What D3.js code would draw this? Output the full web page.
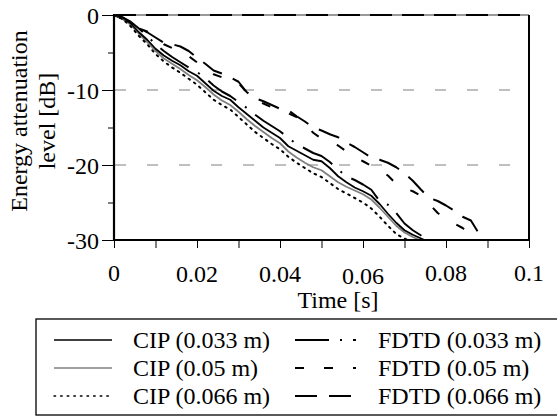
<!DOCTYPE html>
<html>
<head>
<meta charset="utf-8">
<script src="https://cdn.jsdelivr.net/npm/d3@7"></script>
<style>
  body { margin: 0; background: #fff; }
  svg text { font-family: "Liberation Serif", "Times New Roman", serif; fill: #000; }
</style>
</head>
<body>
<div id="chart"></div>
<script>
// --- data ---
// sample times [s], shared by every curve (index k -> time)
var times = [0, 0.002, 0.004, 0.006, 0.008, 0.010, 0.012, 0.014, 0.016, 0.018,
  0.020, 0.022, 0.024, 0.026, 0.028, 0.030, 0.032, 0.034, 0.036, 0.038,
  0.040, 0.042, 0.044, 0.046, 0.048, 0.050, 0.052, 0.054, 0.056, 0.058,
  0.060, 0.062, 0.064, 0.066, 0.068, 0.070, 0.072, 0.074, 0.076, 0.078,
  0.080, 0.082, 0.084, 0.086, 0.088, 0.090];

// energy attenuation level [dB]
var cip033 = [0, -0.3, -1.1, -2.3, -3.3, -4.5, -5.4, -6.1, -6.7, -7.5,
  -8.1, -9.1, -10.1, -10.8, -11.3, -12.3, -13.2, -14.1, -15.0, -15.7,
  -16.4, -17.5, -18.1, -18.7, -19.3, -19.5, -20.4, -21.5, -22.3, -23.0,
  -23.5, -24.1, -25.2, -26.5, -27.7, -28.7, -29.3, -29.8, -30.3];
var cip05 = [0, -0.4, -1.3, -2.5, -3.6, -4.8, -5.8, -6.5, -7.2, -8.0,
  -8.7, -9.6, -10.6, -11.4, -12.0, -12.9, -13.9, -14.8, -15.6, -16.4,
  -17.1, -18.2, -19.0, -19.7, -20.3, -20.7, -21.5, -22.3, -22.9, -23.4,
  -23.9, -24.6, -25.7, -26.9, -28.1, -29.0, -29.6, -30.1];
var cip066 = [0, -0.5, -1.5, -2.8, -3.9, -5.2, -6.2, -7.0, -7.7, -8.5,
  -9.3, -10.3, -11.3, -12.0, -12.6, -13.6, -14.6, -15.6, -16.4, -17.2,
  -17.9, -18.9, -19.7, -20.4, -21.1, -21.6, -22.4, -23.2, -23.8, -24.4,
  -25.0, -25.8, -26.9, -28.1, -29.2, -29.8, -30.4];
var fdtd033 = [0, -0.3, -0.9, -1.8, -2.8, -3.9, -4.8, -5.6, -6.3, -7.0,
  -7.6, -8.4, -9.4, -10.2, -10.8, -11.6, -12.4, -13.3, -14.1, -14.8,
  -15.5, -16.4, -17.2, -17.8, -18.4, -18.8, -19.6, -20.6, -21.5, -22.0,
  -22.6, -23.3, -24.8, -25.3, -26.4, -27.8, -28.7, -29.4, -30.2];
var fdtd05 = [0, -0.5, -1.2, -1.8, -2.2, -2.9, -3.9, -4.4, -4.9, -5.5,
  -6.3, -7.0, -7.9, -8.3, -8.7, -9.1, -10.3, -11.2, -11.8, -12.3,
  -12.7, -13.1, -13.6, -14.5, -15.7, -16.5, -16.9, -17.4, -18.2, -18.9,
  -19.5, -20.1, -20.7, -21.4, -22.5, -23.1, -23.5, -24.1, -25.2, -26.4,
  -27.1, -27.8, -28.4, -29.2, -30.4];
var fdtd066 = [0, -0.5, -1.0, -1.7, -2.3, -3.0, -3.7, -3.9, -4.2, -4.8,
  -5.7, -6.5, -7.4, -7.8, -8.3, -8.9, -10.3, -11.1, -11.5, -12.0,
  -12.5, -12.7, -13.5, -14.2, -15.0, -15.4, -15.9, -16.3, -17.0, -17.6,
  -18.3, -19.0, -19.3, -19.7, -20.3, -21.1, -22.1, -23.3, -24.4, -24.8,
  -25.4, -26.1, -26.9, -27.4, -29.2, -31.5];

var seriesNames = ["CIP (0.033 m)", "CIP (0.05 m)", "CIP (0.066 m)",
  "FDTD (0.033 m)", "FDTD (0.05 m)", "FDTD (0.066 m)"];
var seriesValues = [cip033, cip05, cip066, fdtd033, fdtd05, fdtd066];

var xTicks = [0, 0.01, 0.02, 0.03, 0.04, 0.05, 0.06, 0.07, 0.08, 0.09, 0.1];
var xLabels = ["0", "0.02", "0.04", "0.06", "0.08", "0.1"];
var xLabelValues = [0, 0.02, 0.04, 0.06, 0.08, 0.1];
var yMajor = [0, -10, -20, -30];
var yMinor = [-5, -15, -25];
var gridValues = [-10, -20];

// --- styles, one per series ---
var styles = [
  { color: "#000", width: 1.8, dash: null },
  { color: "#808080", width: 1.8, dash: null },
  { color: "#000", width: 2, dash: "1.6,5" },
  { color: "#000", width: 2, dash: "34,11,2,11" },
  { color: "#000", width: 2, dash: "9,20" },
  { color: "#000", width: 2, dash: "22,12" }
];

var FONT = "'Liberation Serif', 'Times New Roman', serif";
var W = 557, H = 419;
var svg = d3.select("#chart").append("svg")
  .attr("width", W).attr("height", H)
  .attr("font-family", FONT);

var x = d3.scaleLinear().domain([0, 0.1]).range([114, 529]);
var y = d3.scaleLinear().domain([-30, 0]).range([240, 15]);

svg.append("clipPath").attr("id", "plotclip")
  .append("rect")
  .attr("x", x(0)).attr("y", y(0) - 2)
  .attr("width", x(0.1) - x(0)).attr("height", y(-30) - y(0) + 2);

// gridlines
svg.selectAll(".grid").data(gridValues).enter()
  .append("line")
  .attr("class", "grid")
  .attr("x1", x(0) + 1).attr("x2", x(0.1))
  .attr("y1", function (d) { return y(d); })
  .attr("y2", function (d) { return y(d); })
  .attr("stroke", "#aaa").attr("stroke-width", 1.5)
  .attr("stroke-dasharray", "11,21");

// top border: grey line with black dashes on it
svg.append("line")
  .attr("x1", x(0)).attr("x2", x(0.1))
  .attr("y1", y(0)).attr("y2", y(0))
  .attr("stroke", "#999").attr("stroke-width", 2);
svg.append("line")
  .attr("x1", x(0)).attr("x2", x(0.1))
  .attr("y1", y(0)).attr("y2", y(0))
  .attr("stroke", "#000").attr("stroke-width", 2)
  .attr("stroke-dasharray", "22,10");

// right border
svg.append("line")
  .attr("x1", x(0.1)).attr("x2", x(0.1))
  .attr("y1", y(0)).attr("y2", y(-30))
  .attr("stroke", "#000").attr("stroke-width", 2);

// curves
var line = d3.line()
  .x(function (d, i) { return x(times[i]); })
  .y(function (d) { return y(d); });

var curves = svg.append("g").attr("clip-path", "url(#plotclip)");
// draw FDTD first, CIP on top
[3, 4, 5, 1, 0, 2].forEach(function (i) {
  var st = styles[i];
  curves.append("path")
    .datum(seriesValues[i])
    .attr("d", line)
    .attr("fill", "none")
    .attr("stroke", st.color)
    .attr("stroke-width", st.width)
    .attr("stroke-linejoin", "round")
    .attr("stroke-linecap", i === 2 ? "round" : "butt")
    .attr("stroke-dasharray", st.dash);
});

// y axis (major ticks with labels, minor ticks without)
var yAxis = svg.append("g")
  .attr("transform", "translate(" + x(0) + ",0)")
  .call(d3.axisLeft(y).tickValues(yMajor).tickSize(12).tickPadding(3)
    .tickFormat(d3.format("d")))
  .attr("font-family", FONT);
svg.append("g")
  .attr("transform", "translate(" + x(0) + ",0)")
  .call(d3.axisLeft(y).tickValues(yMinor).tickSize(6).tickFormat(""))
  .select(".domain").remove();
yAxis.select(".domain").attr("stroke-width", 2.2)
  .attr("d", "M0," + (y(0) - 1) + "V" + (y(-30) + 1));
yAxis.selectAll(".tick text")
  .attr("font-family", FONT)
  .style("font-size", "24px")
  .attr("dy", "0.34em")
  .text(function (d) { return d === 0 ? "0" : "-" + Math.abs(d); });

// x axis
var xAxis = svg.append("g")
  .attr("transform", "translate(0," + y(-30) + ")")
  .call(d3.axisBottom(x).tickValues(xTicks).tickSize(8).tickFormat(""));
xAxis.select(".domain").attr("stroke-width", 2.2)
  .attr("d", "M" + (x(0) - 1) + ",0H" + (x(0.1) + 1));

// labels sit a little uneven in the original
var xLabelShift = [0, 1, 1, 3, 0, 0];
svg.selectAll(".xlab").data(xLabelValues).enter()
  .append("text")
  .attr("class", "xlab")
  .attr("x", function (d) { return x(d); })
  .attr("y", function (d, i) { return 281 + xLabelShift[i]; })
  .attr("text-anchor", "middle")
  .style("font-size", "24px")
  .text(function (d, i) { return xLabels[i]; });

svg.append("text")
  .attr("x", 338).attr("y", 308)
  .attr("text-anchor", "middle")
  .style("font-size", "24px")
  .text("Time [s]");

// y axis title (two lines)
var yt = svg.append("text")
  .attr("transform", "translate(27,121) rotate(-90)")
  .attr("text-anchor", "middle")
  .style("font-size", "24px");
yt.append("tspan").attr("x", 0).attr("y", 0).text("Energy attenuation");
yt.append("tspan").attr("x", 0).attr("y", 28).text("level [dB]");

// legend
var legend = svg.append("g");
legend.append("rect")
  .attr("x", 36).attr("y", 319).attr("width", 540).attr("height", 96)
  .attr("fill", "none").attr("stroke", "#000").attr("stroke-width", 1.3);

var rowY = [340, 368, 396];
seriesNames.forEach(function (name, i) {
  var col = i < 3 ? 0 : 1;
  var row = i % 3;
  var st = styles[i];
  var x1 = col === 0 ? 54 : 295;
  var x2 = col === 0 ? 112 : 356;
  legend.append("line")
    .attr("x1", x1).attr("x2", x2)
    .attr("y1", rowY[row]).attr("y2", rowY[row])
    .attr("stroke", st.color)
    .attr("stroke-width", col === 0 ? 1.4 : 2)
    .attr("stroke-linecap", i === 2 ? "round" : "butt")
    .attr("stroke-dasharray", st.dash);
  legend.append("text")
    .attr("x", col === 0 ? 133 : 378)
    .attr("y", rowY[row])
    .attr("dy", "0.34em")
    .style("font-size", "24px")
    .text(name);
});
</script>
</body>
</html>
